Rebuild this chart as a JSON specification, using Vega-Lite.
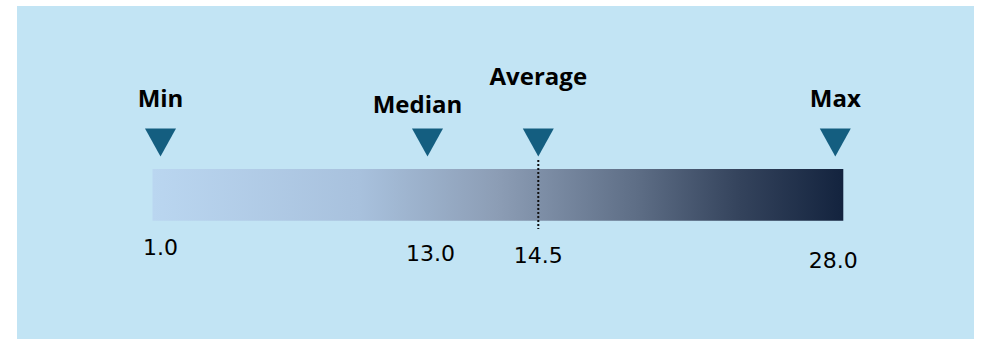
{
  "$schema": "https://vega.github.io/schema/vega-lite/v6.json",
  "width": 957,
  "height": 333,
  "autosize": {"type": "none"},
  "padding": {"left": 17, "top": 6, "right": 8, "bottom": 0},
  "background": "#FFFFFF",
  "view": {"fill": "#C2E4F4", "stroke": null},
  "data": {
    "values": [
      {"stat": "Min", "value": 1.0},
      {"stat": "Median", "value": 13.0},
      {"stat": "Average", "value": 14.5},
      {"stat": "Max", "value": 28.0}
    ]
  },
  "layer": [
    {
      "transform": [{"aggregate": [{"op": "min", "field": "value", "as": "lo"}, {"op": "max", "field": "value", "as": "hi"}]}],
      "mark": {
        "type": "rect",
        "xOffset": -8,
        "x2Offset": 8,
        "color": {
          "gradient": "linear",
          "x1": 0, "y1": 0, "x2": 1, "y2": 0,
          "stops": [
            {"offset": 0, "color": "#BAD6F0"},
            {"offset": 0.3, "color": "#A8C1DD"},
            {"offset": 0.5, "color": "#8C9DB5"},
            {"offset": 0.7, "color": "#5E6E86"},
            {"offset": 0.85, "color": "#34435C"},
            {"offset": 1, "color": "#13233E"}
          ]
        }
      },
      "encoding": {
        "x": {"field": "lo", "type": "quantitative", "axis": null, "scale": {"type": "linear", "zero": false, "nice": false, "domain": [1, 13, 14.5, 28], "range": [143.5, 410.5, 521.3, 818.3]}},
        "x2": {"field": "hi"},
        "y": {"datum": 163, "type": "quantitative", "axis": null, "scale": {"domain": [0, 333], "reverse": true, "zero": false, "nice": false}},
        "y2": {"datum": 214.7}
      }
    },
    {
      "mark": {"type": "point", "shape": "M-1,-0.9L1,-0.9L0,0.9Z", "filled": true, "size": 961, "color": "#145E80", "opacity": 1},
      "encoding": {
        "x": {"field": "value", "type": "quantitative", "axis": null, "scale": {"type": "linear", "zero": false, "nice": false, "domain": [1, 13, 14.5, 28], "range": [143.5, 410.5, 521.3, 818.3]}},
        "y": {"datum": 136.5, "type": "quantitative"}
      }
    },
    {
      "transform": [{"filter": "datum.stat === 'Average'"}],
      "mark": {"type": "rule", "strokeDash": [2, 2], "strokeWidth": 2, "color": "#111111"},
      "encoding": {
        "x": {"field": "value", "type": "quantitative"},
        "y": {"datum": 154, "type": "quantitative"},
        "y2": {"datum": 223}
      }
    },
    {
      "transform": [{"filter": "datum.stat === 'Min' || datum.stat === 'Max'"}],
      "mark": {"type": "text", "font": "Open Sans", "fontWeight": "bold", "fontSize": 24, "baseline": "alphabetic", "align": "center", "color": "#000000"},
      "encoding": {
        "x": {"field": "value", "type": "quantitative"},
        "y": {"datum": 101, "type": "quantitative"},
        "text": {"field": "stat"}
      }
    },
    {
      "transform": [{"filter": "datum.stat === 'Median'"}],
      "mark": {"type": "text", "font": "Open Sans", "fontWeight": "bold", "fontSize": 24, "baseline": "alphabetic", "align": "center", "dx": -10, "color": "#000000"},
      "encoding": {
        "x": {"field": "value", "type": "quantitative"},
        "y": {"datum": 107, "type": "quantitative"},
        "text": {"field": "stat"}
      }
    },
    {
      "transform": [{"filter": "datum.stat === 'Average'"}],
      "mark": {"type": "text", "font": "Open Sans", "fontWeight": "bold", "fontSize": 24, "baseline": "alphabetic", "align": "center", "color": "#000000"},
      "encoding": {
        "x": {"field": "value", "type": "quantitative"},
        "y": {"datum": 79, "type": "quantitative"},
        "text": {"field": "stat"}
      }
    },
    {
      "transform": [{"filter": "datum.stat === 'Min'"}],
      "mark": {"type": "text", "font": "DejaVu Sans", "fontSize": 22, "baseline": "alphabetic", "align": "center", "color": "#000000"},
      "encoding": {
        "x": {"field": "value", "type": "quantitative"},
        "y": {"datum": 249, "type": "quantitative"},
        "text": {"field": "value", "type": "quantitative", "format": ".1f"}
      }
    },
    {
      "transform": [{"filter": "datum.stat === 'Median'"}],
      "mark": {"type": "text", "font": "DejaVu Sans", "fontSize": 22, "baseline": "alphabetic", "align": "center", "dx": 3, "color": "#000000"},
      "encoding": {
        "x": {"field": "value", "type": "quantitative"},
        "y": {"datum": 254.5, "type": "quantitative"},
        "text": {"field": "value", "type": "quantitative", "format": ".1f"}
      }
    },
    {
      "transform": [{"filter": "datum.stat === 'Average'"}],
      "mark": {"type": "text", "font": "DejaVu Sans", "fontSize": 22, "baseline": "alphabetic", "align": "center", "color": "#000000"},
      "encoding": {
        "x": {"field": "value", "type": "quantitative"},
        "y": {"datum": 256.7, "type": "quantitative"},
        "text": {"field": "value", "type": "quantitative", "format": ".1f"}
      }
    },
    {
      "transform": [{"filter": "datum.stat === 'Max'"}],
      "mark": {"type": "text", "font": "DejaVu Sans", "fontSize": 22, "baseline": "alphabetic", "align": "center", "dx": -2, "color": "#000000"},
      "encoding": {
        "x": {"field": "value", "type": "quantitative"},
        "y": {"datum": 262.3, "type": "quantitative"},
        "text": {"field": "value", "type": "quantitative", "format": ".1f"}
      }
    }
  ]
}
